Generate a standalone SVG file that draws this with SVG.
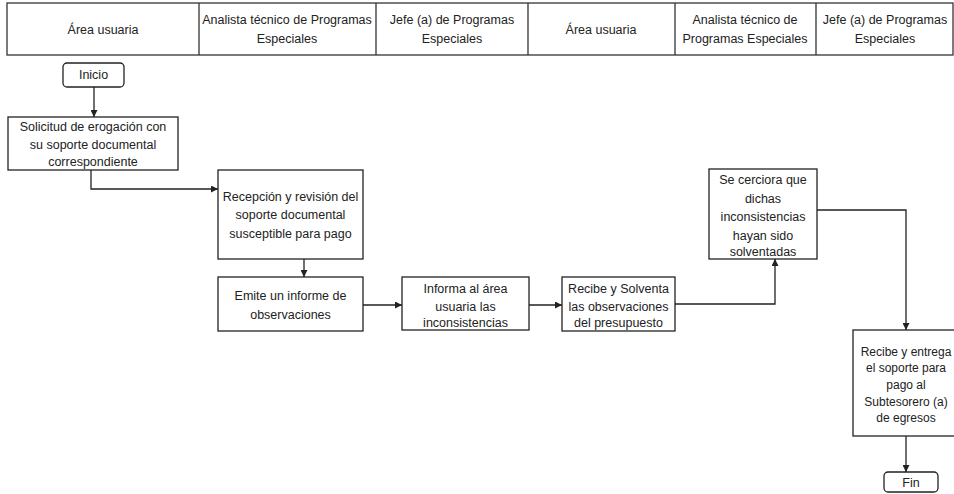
<svg xmlns="http://www.w3.org/2000/svg" width="954" height="494" viewBox="0 0 954 494">
  <style>
    text { font-family: "Liberation Sans", Arial, sans-serif; font-size: 12.5px; fill: #222; text-anchor: middle; }
    .box { fill: #fff; stroke: #222; stroke-width: 1.3; }
    .hdr { fill: #fff; stroke: #333; stroke-width: 1.3; }
    .sep { stroke: #333; stroke-width: 1.3; }
    .line { fill: none; stroke: #222; stroke-width: 1.3; marker-end: url(#arrow); }
    .small { font-size: 12px; }
  </style>
  <defs>
    <marker id="arrow" viewBox="0 0 10 10" refX="10" refY="5" markerWidth="7" markerHeight="7" markerUnits="userSpaceOnUse" orient="auto">
      <path d="M0,0 L10,5 L0,10 z" fill="#222"/>
    </marker>
  </defs>
  <rect width="954" height="494" fill="#fff"/>

  <!-- swimlane header -->
  <g id="header">
    <rect class="hdr" x="7" y="3" width="946" height="52"/>
    <line class="sep" x1="199" y1="3" x2="199" y2="55"/>
    <line class="sep" x1="376" y1="3" x2="376" y2="55"/>
    <line class="sep" x1="528" y1="3" x2="528" y2="55"/>
    <line class="sep" x1="675" y1="3" x2="675" y2="55"/>
    <line class="sep" x1="816" y1="3" x2="816" y2="55"/>
    <text x="103" y="34">Área usuaria</text>
    <text x="287" y="24">Analista técnico de Programas</text>
    <text x="287" y="43">Especiales</text>
    <text x="452" y="24">Jefe (a) de Programas</text>
    <text x="452" y="43">Especiales</text>
    <text x="601" y="34">Área usuaria</text>
    <text x="745" y="24">Analista técnico de</text>
    <text x="745" y="43">Programas Especiales</text>
    <text x="885" y="24">Jefe (a) de Programas</text>
    <text x="885" y="43">Especiales</text>
  </g>

  <!-- connectors -->
  <g id="connectors">
    <path class="line" d="M94,87 V117"/>
    <path class="line" d="M91,170 V189 H218"/>
    <path class="line" d="M304,259 V277"/>
    <path class="line" d="M363,305 H402"/>
    <path class="line" d="M529,305 H562"/>
    <path class="line" d="M675,304 H775 V259"/>
    <path class="line" d="M817,210 H906 V330"/>
    <path class="line" d="M906,436 V472"/>
  </g>

  <g id="inicio">
    <rect class="box" x="63" y="63" width="61" height="24" rx="4"/>
    <text x="93.5" y="79">Inicio</text>
  </g>

  <g id="solicitud">
    <rect class="box" x="8" y="117" width="170" height="53"/>
    <text x="93" y="131">Solicitud de erogación con</text>
    <text x="93" y="149">su soporte documental</text>
    <text x="93" y="166">correspondiente</text>
  </g>

  <g id="recepcion">
    <rect class="box" x="218" y="170" width="145" height="89"/>
    <text x="290.5" y="201">Recepción y revisión del</text>
    <text x="290.5" y="219">soporte documental</text>
    <text x="290.5" y="238">susceptible para pago</text>
  </g>

  <g id="emite">
    <rect class="box" x="218" y="277" width="145" height="54"/>
    <text x="290.5" y="300">Emite un informe de</text>
    <text x="290.5" y="319">observaciones</text>
  </g>

  <g id="informa">
    <rect class="box" x="402" y="277" width="127" height="53"/>
    <text x="465.5" y="293">Informa al área</text>
    <text x="465.5" y="311">usuaria las</text>
    <text x="465.5" y="327">inconsistencias</text>
  </g>

  <g id="solventa">
    <rect class="box" x="562" y="277" width="113" height="54"/>
    <text x="618.5" y="293">Recibe y Solventa</text>
    <text x="618.5" y="311">las observaciones</text>
    <text x="618.5" y="327">del presupuesto</text>
  </g>

  <g id="cerciora">
    <rect class="box" x="709" y="169" width="108" height="90"/>
    <text x="763" y="184">Se cerciora que</text>
    <text x="763" y="203">dichas</text>
    <text x="763" y="221">inconsistencias</text>
    <text x="763" y="240">hayan sido</text>
    <text x="763" y="256">solventadas</text>
  </g>

  <g id="entrega">
    <rect class="box" x="853" y="330" width="120" height="106"/>
    <text class="small" x="906" y="356">Recibe y entrega</text>
    <text class="small" x="906" y="372">el soporte para</text>
    <text class="small" x="906" y="389">pago al</text>
    <text class="small" x="906" y="406">Subtesorero (a)</text>
    <text class="small" x="906" y="422">de egresos</text>
  </g>

  <g id="fin">
    <rect class="box" x="884" y="472" width="54" height="20" rx="4"/>
    <text x="911" y="487">Fin</text>
  </g>
</svg>
